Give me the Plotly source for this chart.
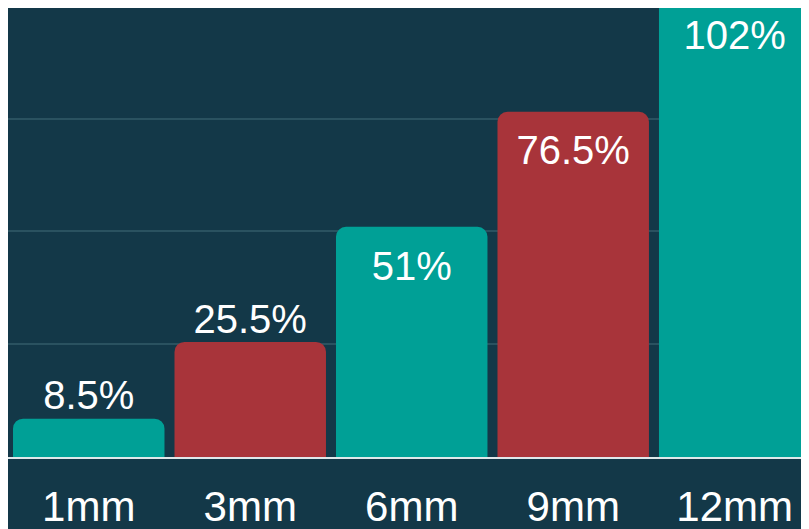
import plotly.graph_objects as go

categories = ["1mm", "3mm", "6mm", "9mm", "12mm"]
values = [8.5, 25.5, 51, 76.5, 102]
bar_colors = ["#00a096", "#a8343a", "#00a096", "#a8343a", "#00a096"]

BG = "#133848"
FONT = "Liberation Sans, Arial, sans-serif"

Y_MAX = 99.5
LABEL_SHIFT = 3  # label axis offset (units) so that every label stays inside the range

inside = [v > 40 for v in values]

fig = go.Figure()
fig.add_trace(go.Bar(
    x=categories,
    y=values,
    marker=dict(color=bar_colors, line=dict(width=0), cornerradius=10),
    hoverinfo="skip",
))
fig.add_trace(go.Scatter(
    x=categories,
    y=values,
    yaxis="y2",
    mode="markers+text",
    text=[f"{v:g}%" for v in values],
    textposition=["bottom center" if i else "top center" for i in inside],
    marker=dict(size=[13 if i else 19 for i in inside], opacity=0),
    textfont=dict(family=FONT, size=40, color="#ffffff"),
    cliponaxis=False,
    hoverinfo="skip",
))

fig.update_layout(
    width=801, height=521,
    margin=dict(l=0, r=0, t=0, b=72),
    paper_bgcolor=BG, plot_bgcolor=BG,
    bargap=0.062,
    showlegend=False,
    font=dict(family=FONT, color="#ffffff"),
    xaxis=dict(
        range=[-0.5, 4.46],
        showline=True, linecolor="#dfe8ea", linewidth=2,
        showgrid=False, ticks="",
        tickfont=dict(family=FONT, size=42, color="#ffffff"),
        ticklabelstandoff=12,
        automargin=False,
        fixedrange=True,
    ),
    yaxis=dict(
        range=[0, Y_MAX],
        dtick=25, showgrid=True, gridcolor="#2a5260", gridwidth=2,
        zeroline=False, showticklabels=False, ticks="",
        automargin=False,
        fixedrange=True,
    ),
    yaxis2=dict(
        overlaying="y",
        range=[LABEL_SHIFT, Y_MAX + LABEL_SHIFT],
        visible=False, showgrid=False, zeroline=False,
        fixedrange=True,
    ),
)

fig.write_html("out.html")
